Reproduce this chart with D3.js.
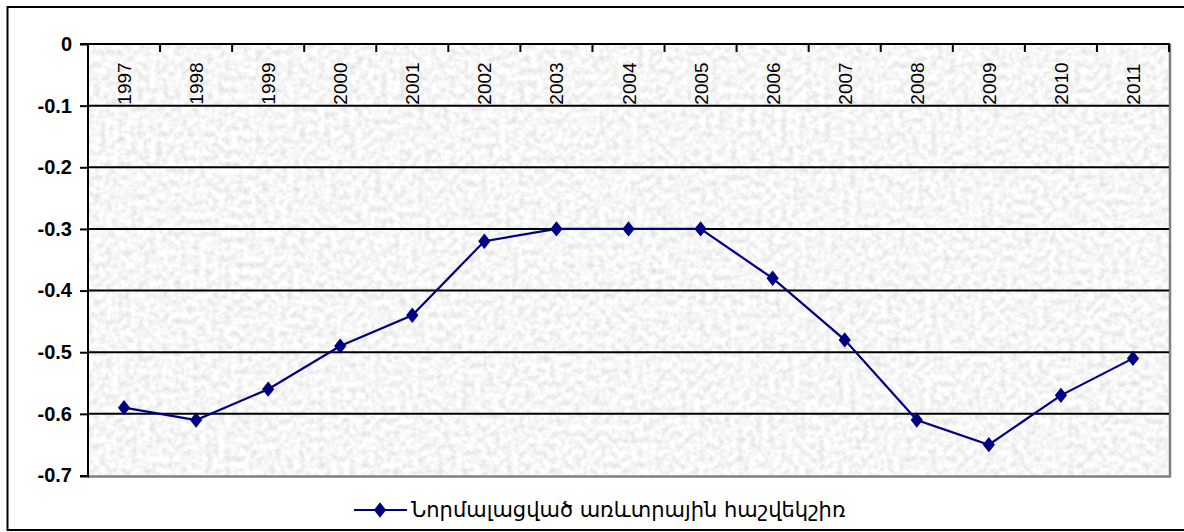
<!DOCTYPE html>
<html><head><meta charset="utf-8">
<script src="https://cdn.jsdelivr.net/npm/d3@7"></script>
<style>body{margin:0;background:#fff}svg{display:block}</style>
</head><body>
<svg id="c" width="1184" height="532"></svg>
<script>
const years = ["1997","1998","1999","2000","2001","2002","2003","2004","2005","2006","2007","2008","2009","2010","2011"];
const values = [-0.59,-0.61,-0.56,-0.49,-0.44,-0.32,-0.30,-0.30,-0.30,-0.38,-0.48,-0.61,-0.65,-0.57,-0.51];
const yTicks = [0,-0.1,-0.2,-0.3,-0.4,-0.5,-0.6,-0.7];
const yTickLabels = ["0","-0.1","-0.2","-0.3","-0.4","-0.5","-0.6","-0.7"];
const seriesName = "Նորմալացված առևտրային հաշվեկշիռ";

const svg = d3.select("#c");
const L = 88, R = 1169, T = 44, B = 475.5;
const x = d3.scaleBand().domain(years).range([L, R]).padding(0);
const y = d3.scaleLinear().domain([-0.7, 0]).range([B, T]);

const defs = svg.append("defs");
const f = defs.append("filter").attr("id","granite").attr("x",0).attr("y",0).attr("width","100%").attr("height","100%");
f.append("feTurbulence").attr("type","fractalNoise").attr("baseFrequency","0.16").attr("numOctaves",4).attr("seed",11).attr("result","n");
f.append("feColorMatrix").attr("in","n").attr("type","matrix")
 .attr("values","0.45 0 0 0 0.70  0.45 0 0 0 0.70  0.45 0 0 0 0.70  0 0 0 0 1").attr("result","g");
f.append("feComposite").attr("in","g").attr("in2","SourceGraphic").attr("operator","in");

// outer border
svg.append("rect").attr("x",7.5).attr("y",7).attr("width",1190).attr("height",523)
  .attr("fill","#fff").attr("stroke","#000").attr("stroke-width",2);

// plot background
svg.append("rect").attr("x",L).attr("y",T).attr("width",R-L).attr("height",B-T)
  .attr("fill","#ececec").attr("filter","url(#granite)");
// plot border (gray right/bottom)
svg.append("path").attr("d",`M${R+1},${T}V${B+1}H${L}`).attr("fill","none").attr("stroke","#808080").attr("stroke-width",2.5);

// gridlines
svg.append("g").selectAll("line").data(yTicks.filter(d=>d!==-0.7)).join("line")
  .attr("x1",L).attr("x2",R).attr("y1",d=>y(d)).attr("y2",d=>y(d))
  .attr("stroke","#000").attr("stroke-width",2);

// y axis
const yAxis = d3.axisLeft(y).tickValues(yTicks).tickSize(8).tickPadding(8)
  .tickFormat((d,i)=>yTickLabels[i]);
const gy = svg.append("g").attr("transform",`translate(${L},0)`).call(yAxis);
gy.select(".domain").attr("stroke","#000").attr("stroke-width",2).attr("d",`M-8,${T}H0V${B+1}H-8`);
gy.selectAll(".tick line").attr("stroke","#000").attr("stroke-width",2);
gy.selectAll(".tick text").attr("font-family","Liberation Sans, Arial, sans-serif")
  .attr("font-size",20).attr("font-weight","bold").attr("fill","#000");

// x axis at 0 (top), ticks downward between categories
const gx = svg.append("g");
gx.append("line").attr("x1",L).attr("x2",R+1).attr("y1",y(0)).attr("y2",y(0)).attr("stroke","#000").attr("stroke-width",2);
const bounds = years.map(d=>x(d)).concat([x(years[years.length-1])+x.bandwidth()]);
gx.selectAll("line.t").data(bounds).join("line").attr("class","t")
  .attr("x1",d=>d).attr("x2",d=>d).attr("y1",y(0)).attr("y2",y(0)+8)
  .attr("stroke","#000").attr("stroke-width",2);
gx.selectAll("text").data(years).join("text")
  .attr("transform",d=>`translate(${x(d)+x.bandwidth()/2+7},${y(-0.1)-1}) rotate(-90)`)
  .attr("font-family","Liberation Sans, Arial, sans-serif").attr("font-size",19)
  .attr("fill","#000").text(d=>d);

// custom tall diamond symbol
const tallDiamond = { draw(ctx, size) { const w = Math.sqrt(size)*0.5, h = w*1.25;
  ctx.moveTo(0,-h); ctx.lineTo(w,0); ctx.lineTo(0,h); ctx.lineTo(-w,0); ctx.closePath(); } };

// line
const cx = d=>x(d)+x.bandwidth()/2;
const line = d3.line().x((d,i)=>cx(years[i])).y(d=>y(d));
svg.append("path").datum(values).attr("d",line).attr("fill","none")
  .attr("stroke","#000080").attr("stroke-width",2.2);
const diamond = d3.symbol().type(tallDiamond).size(150);
svg.append("g").selectAll("path").data(values).join("path")
  .attr("transform",(d,i)=>`translate(${cx(years[i])},${y(d)})`)
  .attr("d",diamond).attr("fill","#000080");

// legend
const lg = svg.append("g").attr("transform","translate(354,510)");
lg.append("line").attr("x1",0).attr("x2",53).attr("stroke","#000080").attr("stroke-width",2.2);
lg.append("path").attr("transform","translate(26,0)").attr("d",diamond).attr("fill","#000080");
lg.append("text").attr("x",57).attr("y",7).attr("font-family","DejaVu Sans, sans-serif")
  .attr("font-size",21).attr("fill","#000").text(seriesName);
</script>
</body></html>
